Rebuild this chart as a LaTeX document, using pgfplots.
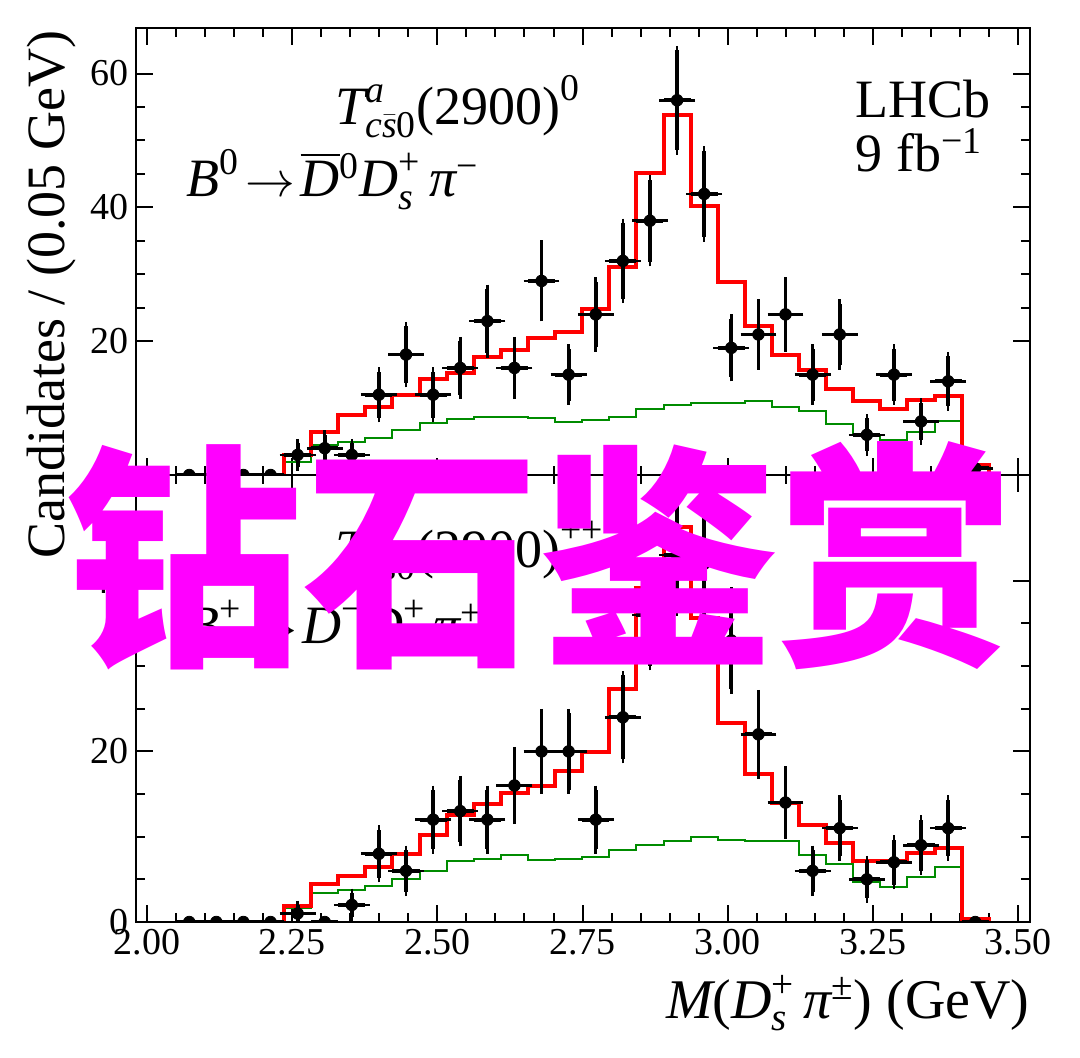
\documentclass[border=0pt]{standalone}
\usepackage{amsmath}
\usepackage{fontspec}
\setmainfont{Liberation Serif}
\newfontfamily\cjk{Noto Sans CJK SC}
\usepackage{pgfplots}
\usepackage{pgfplotstable}
\pgfplotsset{compat=1.18}

\definecolor{fitred}{RGB}{255,0,0}
\definecolor{bkggreen}{RGB}{0,140,0}
\definecolor{wm}{RGB}{255,0,255}

% italic letter in the text font, inside math
\newcommand{\mi}[1]{\text{\itshape #1}}
\newcommand{\bigfont}{\fontsize{27}{32}\selectfont}

% data: bin centre, count, half bin width, sqrt(count)
\pgfplotstableread{
x       y   ex      ey
2.0727  0   0.0233  0
2.1193  0   0.0233  0
2.1660  0   0.0233  0
2.2127  0   0.0233  0
2.2593  3   0.0233  1.73
2.3060  4   0.0233  2.00
2.3527  3   0.0233  1.73
2.3993  12  0.0233  3.46
2.4460  18  0.0233  4.24
2.4927  12  0.0233  3.46
2.5394  16  0.0233  4.00
2.5861  23  0.0233  4.80
2.6327  16  0.0233  4.00
2.6794  29  0.0233  5.39
2.7261  15  0.0233  3.87
2.7728  24  0.0233  4.90
2.8195  32  0.0233  5.66
2.8661  38  0.0233  6.16
2.9128  56  0.0233  7.48
2.9595  42  0.0233  6.48
3.0062  19  0.0233  4.36
3.0529  21  0.0233  4.58
3.0995  24  0.0233  4.90
3.1462  15  0.0233  3.87
3.1929  21  0.0233  4.58
3.2396  6   0.0233  2.45
3.2863  15  0.0233  3.87
3.3329  8   0.0233  2.83
3.3796  14  0.0233  3.74
3.4263  1   0.0233  1.00
}\topdata

\pgfplotstableread{
x       y   ex      ey
2.0727  0   0.0233  0
2.1193  0   0.0233  0
2.1660  0   0.0233  0
2.2127  0   0.0233  0
2.2593  1   0.0233  1.00
2.3060  0   0.0233  0
2.3527  2   0.0233  1.41
2.3993  8   0.0233  2.83
2.4460  6   0.0233  2.45
2.4927  12  0.0233  3.46
2.5394  13  0.0233  3.61
2.5861  12  0.0233  3.46
2.6327  16  0.0233  4.00
2.6794  20  0.0233  4.47
2.7261  20  0.0233  4.47
2.7728  12  0.0233  3.46
2.8195  24  0.0233  4.90
2.8661  36  0.0233  6.00
2.9128  43  0.0233  6.56
2.9595  42  0.0233  6.48
3.0062  33  0.0233  5.74
3.0529  22  0.0233  4.69
3.0995  14  0.0233  3.74
3.1462  6   0.0233  2.45
3.1929  11  0.0233  3.32
3.2396  5   0.0233  2.24
3.2863  7   0.0233  2.65
3.3329  9   0.0233  3.00
3.3796  11  0.0233  3.32
3.4263  0   0.0233  0
}\botdata

\pgfplotsset{
  lhcb/.style={
    width=447pt, height=223.5pt, scale only axis,
    xmin=1.981, xmax=3.5206, ymin=0,
    xtick={2,2.25,...,3.5},
    minor x tick num=4, minor y tick num=3,
    tick align=inside, xtick pos=both, ytick pos=both,
    major tick length=8.5pt, minor tick length=4.5pt,
    axis line style={line width=1.3pt},
    every tick/.style={black, line width=1pt},
    tick label style={font=\fontsize{19}{22}\selectfont},
    /pgf/number format/assume math mode=true,
    clip marker paths=true,
  },
  datapts/.style={
    only marks, mark=*, black, mark size=2.9pt,
    error bars/.cd,
      x dir=both, x explicit, y dir=both, y explicit,
      error bar style={line width=1.9pt, black},
      error mark options={line width=1.3pt, mark size=2.2pt, black},
  },
}

\begin{document}
\begin{tikzpicture}

% upper panel: B0 -> D0bar Ds+ pi-
\begin{axis}[lhcb, at={(0,223.5pt)},
    ymax=66.8, ytick={20,40,60}, xticklabels={},
    ylabel={Candidates / (0.05 GeV)},
    ylabel style={font=\bigfont, at={(axis description cs:-0.094,0.995)}, anchor=east, inner sep=0pt},
  ]
  \addplot[const plot, bkggreen, line width=1pt] coordinates {
    (2.0493,0) (2.2360,0) (2.2360,2.0) (2.2827,4.5) (2.3294,5.0) (2.3760,5.5)
    (2.4227,6.7) (2.4694,7.7) (2.5161,8.4) (2.5628,8.7) (2.6094,8.6)
    (2.6561,8.5) (2.7028,7.9) (2.7495,8.2) (2.7962,8.7) (2.8428,9.9)
    (2.8895,10.5) (2.9362,10.7) (2.9829,10.8) (3.0296,11.1) (3.0762,10.2)
    (3.1229,9.5) (3.1696,7.6) (3.2163,6.0) (3.2630,5.3) (3.3096,6.4)
    (3.3563,8.1) (3.4030,1.3) (3.4497,1.3) (3.4497,0)
  };
  \addplot[const plot, fitred, line width=2pt] coordinates {
    (2.0493,0) (2.2360,0) (2.2360,3.0) (2.2827,6.5) (2.3294,9.0) (2.3760,10.2)
    (2.4227,12.0) (2.4694,14.3) (2.5161,15.3) (2.5628,17.6) (2.6094,18.7)
    (2.6561,20.4) (2.7028,21.4) (2.7495,24.8) (2.7962,31.1) (2.8428,45.1)
    (2.8895,53.8) (2.9362,40.2) (2.9829,28.8) (3.0296,22.3) (3.0762,18.0)
    (3.1229,15.7) (3.1696,12.8) (3.2163,11.0) (3.2630,9.9) (3.3096,11.2)
    (3.3563,11.8) (3.4030,1.5) (3.4497,1.5) (3.4497,0)
  };
  \addplot[datapts] table[x=x, y=y, x error=ex, y error=ey] {\topdata};

  \node[anchor=base west, font=\bigfont] at (axis description cs:0.215,0.783)
    {$\mi{T}^{\mi{a}}_{\mi{c}\bar{\mi{s}}\text{0}}\text{(2900)}^{\text{0}}$};
  \node[anchor=base west, font=\bigfont] at (axis description cs:0.049,0.622)
    {$\mi{B}^{\text{0}}\!\rightarrow\!\overline{\mi{D}}{}^{\text{0}}\mi{D}_{\mi{s}}^{\text{+}}\,\mi{π}^{\text{−}}$};
  \node[anchor=base west, font=\bigfont] at (axis description cs:0.797,0.799) {LHCb};
  \node[anchor=base west, font=\bigfont] at (axis description cs:0.797,0.678)
    {9 fb$^{\text{−1}}$};
\end{axis}

% lower panel: B+ -> D- Ds+ pi+
\begin{axis}[lhcb, at={(0,0)},
    ymax=52.4, ytick={0,20,40},
    xticklabel style={/pgf/number format/.cd, fixed, fixed zerofill, precision=2},
    xlabel={$\mi{M}\text{(}\mi{D}_{\mi{s}}^{\text{+}}\,\mi{π}^{\text{±}}\text{)}$ (GeV)},
    xlabel style={font=\fontsize{28}{33}\selectfont, at={(axis description cs:1,0)}, anchor=base east, yshift=-48pt, inner sep=0pt},
  ]
  \addplot[const plot, bkggreen, line width=1pt] coordinates {
    (2.0493,0) (2.2360,0) (2.2360,1.7) (2.2827,3.4) (2.3294,3.7) (2.3760,4.2)
    (2.4227,5.0) (2.4694,6.0) (2.5161,7.2) (2.5628,7.4) (2.6094,7.9)
    (2.6561,7.3) (2.7028,7.4) (2.7495,7.6) (2.7962,8.5) (2.8428,9.0)
    (2.8895,9.5) (2.9362,10.0) (2.9829,9.6) (3.0296,9.5) (3.0762,9.5)
    (3.1229,7.8) (3.1696,6.8) (3.2163,4.7) (3.2630,4.1) (3.3096,5.3)
    (3.3563,6.5) (3.4030,0.3) (3.4497,0.3) (3.4497,0)
  };
  \addplot[const plot, fitred, line width=2pt] coordinates {
    (2.0493,0) (2.2360,0) (2.2360,1.9) (2.2827,4.4) (2.3294,5.4) (2.3760,6.5)
    (2.4227,8.0) (2.4694,10.2) (2.5161,12.6) (2.5628,13.8) (2.6094,15.1)
    (2.6561,16.0) (2.7028,17.7) (2.7495,19.9) (2.7962,27.3) (2.8428,39.2)
    (2.8895,46.3) (2.9362,35.6) (2.9829,23.3) (3.0296,17.3) (3.0762,14.0)
    (3.1229,11.4) (3.1696,9.3) (3.2163,7.2) (3.2630,7.1) (3.3096,8.1)
    (3.3563,8.7) (3.4030,0.3) (3.4497,0.3) (3.4497,0)
  };
  \addplot[datapts] table[x=x, y=y, x error=ex, y error=ey] {\botdata};

  \node[anchor=base west, font=\bigfont] at (axis description cs:0.215,0.794)
    {$\mi{T}^{\mi{a}}_{\mi{c}\bar{\mi{s}}\text{0}}\text{(2900)}^{\text{++}}$};
  \node[anchor=base west, font=\bigfont] at (axis description cs:0.049,0.624)
    {$\mi{B}^{\text{+}}\!\rightarrow\!\mi{D}^{\text{−}}\mi{D}_{\mi{s}}^{\text{+}}\,\mi{π}^{\text{+}}$};
\end{axis}

% watermark over the figure
\node[text=wm, inner sep=0pt] at (202pt,183pt)
  {\cjk\bfseries\fontsize{118.5}{118.5}\selectfont 钻石鉴赏};

\pgfresetboundingbox
\path[use as bounding box] (-68pt,-67.5pt) rectangle (472pt,461pt);
\end{tikzpicture}
\end{document}
